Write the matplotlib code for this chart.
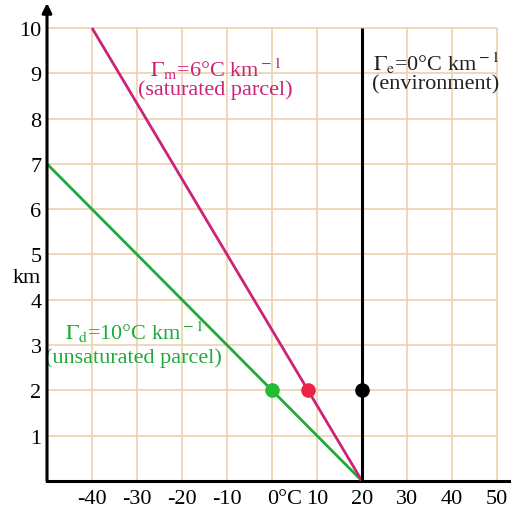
import matplotlib
matplotlib.use("Agg")
import matplotlib.pyplot as plt
import matplotlib.transforms as mtransforms

plt.rcParams['font.family'] = ['Liberation Serif', 'DejaVu Serif']
plt.rcParams['mathtext.fontset'] = 'stix'

# Data
x_ticks = [-40, -30, -20, -10, 0, 10, 20, 30, 40, 50]
x_tick_labels = ['-40', '-30', '-20', '-10', '0°C', '10', '20', '30', '40', '50']
y_ticks = [1, 2, 3, 4, 5, 6, 7, 8, 9, 10]

dry_x = [-50, 20]      # Γd = 10 °C/km
dry_y = [7, 0]
moist_x = [-40, 20]    # Γm = 6 °C/km
moist_y = [10, 0]
env_x = [20, 20]       # Γe = 0 °C/km
env_y = [0, 10]

point_x = [0, 8, 20]
point_y = [2, 2, 2]
point_colors = ['#22bb33', '#ee2244', '#000000']

GREEN = '#1faa3a'
PINK = '#cc2277'
GRID = '#ecd2ae'
FS = 16

fig = plt.figure(figsize=(5.11, 5.10), dpi=100)
ax = fig.add_axes([47/511, 28/510, 464/511, 475.7/510])
ax.set_xlim(-50, 53.1)
ax.set_ylim(0, 10.5)

# grid
ax.hlines(y_ticks, -50, 50, colors=GRID, lw=1.2, zorder=1)
ax.vlines(x_ticks, 0, 10, colors=GRID, lw=1.2, zorder=1)

# lines
ax.plot(dry_x, dry_y, color=GREEN, lw=2.0, zorder=3, solid_capstyle='butt')
ax.plot(moist_x, moist_y, color=PINK, lw=2.0, zorder=3, solid_capstyle='butt')
ax.plot(env_x, env_y, color='black', lw=2.2, zorder=3, solid_capstyle='butt')

for px, py, c in zip(point_x, point_y, point_colors):
    ax.plot(px, py, 'o', color=c, ms=10.5, zorder=4, mec='none')

# spines
for s in ['top', 'right', 'left']:
    ax.spines[s].set_visible(False)
ax.spines['bottom'].set_linewidth(2.2)
ax.annotate('', xy=(-50, 10.55), xytext=(-50, 0), xycoords='data',
            arrowprops=dict(arrowstyle='-|>', lw=2.2, color='black',
                            mutation_scale=14, shrinkA=0, shrinkB=0),
            annotation_clip=False, zorder=5)

ax.set_xticks(x_ticks)
ax.set_xticklabels(x_tick_labels, fontsize=FS)
ax.set_yticks(y_ticks)
ax.set_yticklabels([str(v) for v in y_ticks], fontsize=FS)
ax.tick_params(length=0, pad=4)
ax.tick_params(axis='x', pad=6)

# shift "0°C" label so that "0" sits under tick
lbl = ax.get_xticklabels()[x_ticks.index(0)]
lbl.set_horizontalalignment('left')
lbl.set_transform(lbl.get_transform() + mtransforms.ScaledTranslation(-5/100, 0, fig.dpi_scale_trans))

ax.text(-50, 4.5, 'km', fontsize=FS, ha='right', va='center',
        transform=ax.transData + mtransforms.ScaledTranslation(-6/100, 0, fig.dpi_scale_trans))

# annotations
ax.text(-12.5, 9.1, r'$\Gamma_{\rm m}$=6°C km$^{\rm -1}$', color=PINK, fontsize=FS, ha='center', va='center')
ax.text(-12.5, 8.64, '(saturated parcel)', color=PINK, fontsize=FS, ha='center', va='center')
ax.text(36.4, 9.25, r'$\Gamma_{\rm e}$=0°C km$^{\rm -1}$', color='#222222', fontsize=FS, ha='center', va='center')
ax.text(36.4, 8.76, '(environment)', color='#222222', fontsize=FS, ha='center', va='center')
ax.text(-30.7, 3.3, r'$\Gamma_{\rm d}$=10°C km$^{\rm -1}$', color=GREEN, fontsize=FS, ha='center', va='center')
ax.text(-30.7, 2.74, '(unsaturated parcel)', color=GREEN, fontsize=FS, ha='center', va='center')

fig.savefig('out.png', dpi=100)
